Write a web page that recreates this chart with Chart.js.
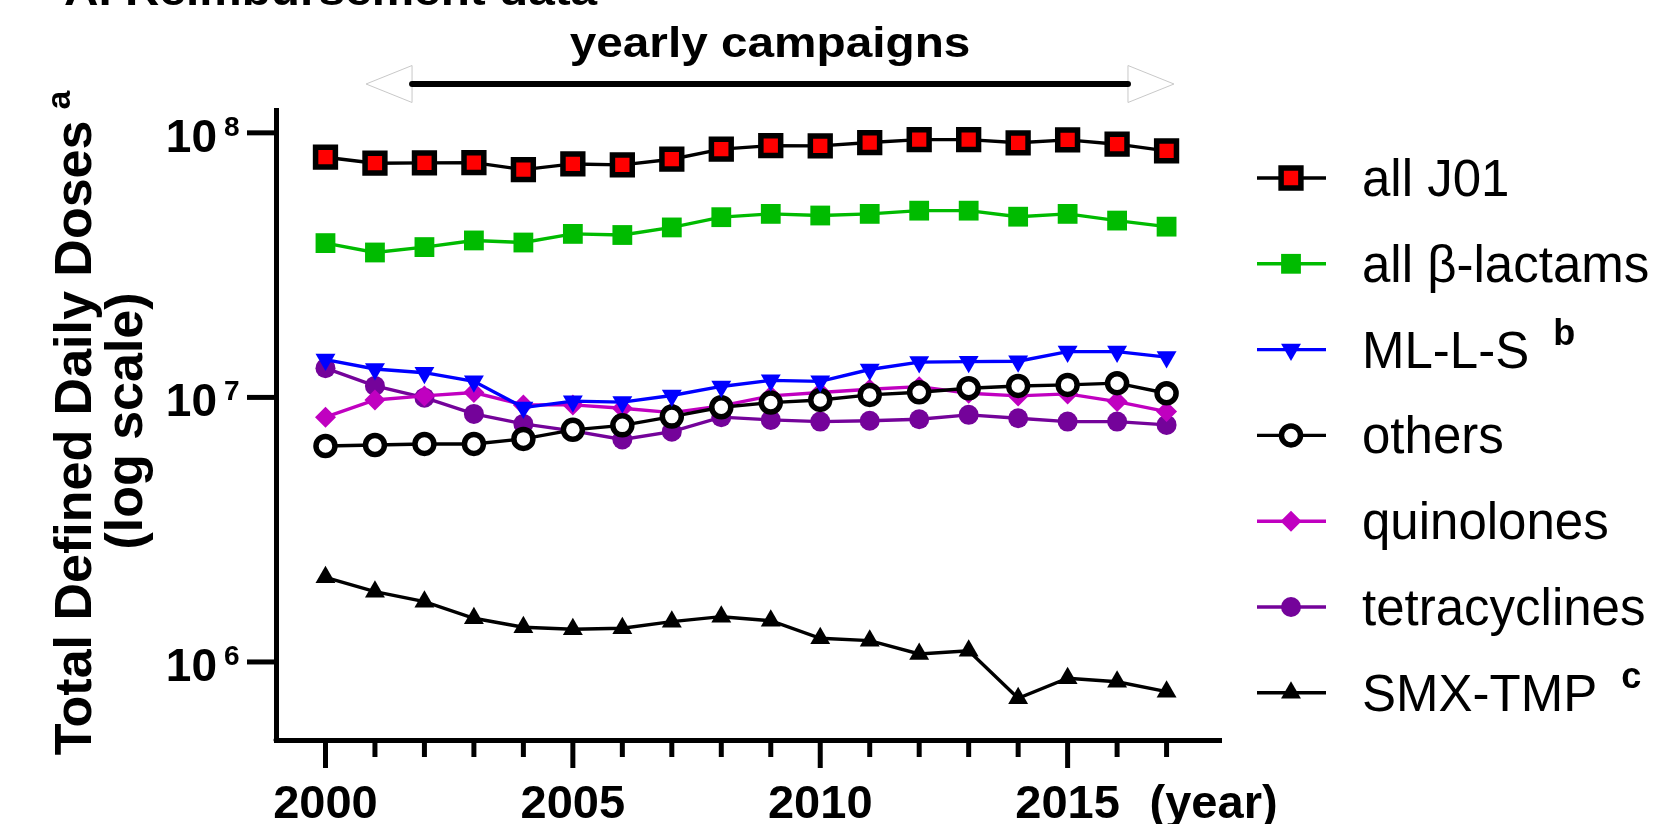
<!DOCTYPE html>
<html>
<head>
<meta charset="utf-8">
<script src="https://cdn.jsdelivr.net/npm/chart.js@4.4.1/dist/chart.umd.min.js"></script>
<style>
  html, body { margin: 0; padding: 0; background: #ffffff; overflow: hidden; }
  canvas { display: block; }
</style>
</head>
<body>
<canvas id="chart" width="1657" height="824"></canvas>
<script>
// ---- data: total defined daily doses per year (log scale) ----
const years = [2000, 2001, 2002, 2003, 2004, 2005, 2006, 2007, 2008, 2009,
               2010, 2011, 2012, 2013, 2014, 2015, 2016, 2017];

const allJ01 = [8.09e7, 7.68e7, 7.70e7, 7.72e7, 7.26e7, 7.63e7, 7.57e7, 7.95e7, 8.68e7,
                8.95e7, 8.93e7, 9.19e7, 9.43e7, 9.43e7, 9.17e7, 9.41e7, 9.06e7, 8.55e7];
const betaLactams = [3.83e7, 3.53e7, 3.70e7, 3.92e7, 3.85e7, 4.15e7, 4.11e7, 4.39e7, 4.80e7,
                     4.94e7, 4.87e7, 4.94e7, 5.08e7, 5.08e7, 4.82e7, 4.94e7, 4.66e7, 4.42e7];
const mlls = [1.39e7, 1.28e7, 1.24e7, 1.15e7, 9.15e6, 9.68e6, 9.60e6, 1.017e7, 1.10e7,
              1.16e7, 1.15e7, 1.275e7, 1.36e7, 1.365e7, 1.37e7, 1.49e7, 1.49e7, 1.42e7];
const others = [6.55e6, 6.61e6, 6.67e6, 6.67e6, 6.97e6, 7.54e6, 7.84e6, 8.46e6, 9.18e6,
                9.56e6, 9.78e6, 1.022e7, 1.046e7, 1.083e7, 1.105e7, 1.115e7, 1.132e7, 1.037e7];
const quinolones = [8.42e6, 9.78e6, 1.013e7, 1.043e7, 9.37e6, 9.37e6, 9.10e6, 8.76e6, 9.29e6,
                    1.013e7, 1.043e7, 1.074e7, 1.098e7, 1.037e7, 1.013e7, 1.031e7, 9.64e6, 8.84e6];
const tetracyclines = [1.29e7, 1.105e7, 9.98e6, 8.66e6, 7.94e6, 7.47e6, 6.93e6, 7.42e6, 8.42e6,
                       8.22e6, 8.10e6, 8.16e6, 8.27e6, 8.59e6, 8.34e6, 8.10e6, 8.10e6, 7.87e6];
const smxTmp = [2.09e6, 1.844e6, 1.69e6, 1.463e6, 1.353e6, 1.329e6, 1.341e6, 1.42e6, 1.483e6,
                1.432e6, 1.229e6, 1.204e6, 1.072e6, 1.103e6, 7.29e5, 8.68e5, 8.42e5, 7.72e5];

const seriesNames = ['all J01', 'all \u03B2-lactams', 'ML-L-S', 'others', 'quinolones', 'tetracyclines', 'SMX-TMP'];
const seriesNotes = ['', '', 'b', '', '', '', 'c'];
const seriesValues = [allJ01, betaLactams, mlls, others, quinolones, tetracyclines, smxTmp];

const yTickValues = [1e6, 1e7, 1e8];
const yTickExponents = ['6', '7', '8'];
const xLabelYears = [2000, 2005, 2010, 2015];

const titleText = 'A. Reimbursement data';
const campaignText = 'yearly campaigns';
const yTitleMain = 'Total Defined Daily Doses';
const yTitleNote = 'a';
const yTitleSub = '(log scale)';
const xUnitText = '(year)';

// span of the campaign arrow, in years
const CAMPAIGN_FROM = 2001.75;
const CAMPAIGN_TO = 2016.22;
const ARROW_HEAD = 0.93;

// ---- styles ----
const FONT = '"Liberation Sans", Arial, Helvetica, sans-serif';
const seriesStyles = [
  { line: '#000000', pointStyle: 'rect',     radius: 14,   rotation: 0,   fill: '#ff0000', border: '#000000', bw: 5.5 },
  { line: '#00bb00', pointStyle: 'rect',     radius: 14,   rotation: 0,   fill: '#00bb00', border: '#00bb00', bw: 0 },
  { line: '#0000ff', pointStyle: 'triangle', radius: 11.5, rotation: 180, fill: '#0000ff', border: '#0000ff', bw: 0 },
  { line: '#000000', pointStyle: 'circle',   radius: 9.5,  rotation: 0,   fill: '#ffffff', border: '#000000', bw: 5.5 },
  { line: '#c000c0', pointStyle: 'rectRot',  radius: 10.5, rotation: 0,   fill: '#c000c0', border: '#c000c0', bw: 0 },
  { line: '#74039a', pointStyle: 'circle',   radius: 10,   rotation: 0,   fill: '#74039a', border: '#74039a', bw: 0 },
  { line: '#000000', pointStyle: 'triangle', radius: 11.5, rotation: 0,   fill: '#000000', border: '#000000', bw: 0 }
];

const datasets = seriesValues.map((vals, i) => {
  const s = seriesStyles[i];
  return {
    label: seriesNames[i],
    data: years.map((yr, k) => ({ x: yr, y: vals[k] })),
    borderColor: s.line,
    borderWidth: 3.4,
    tension: 0,
    fill: false,
    clip: false,
    pointStyle: s.pointStyle,
    pointRadius: s.radius,
    pointRotation: s.rotation,
    pointBackgroundColor: s.fill,
    pointBorderColor: s.border,
    pointBorderWidth: s.bw,
    pointHoverRadius: s.radius,
    pointHitRadius: 0
  };
});

function markerAt(ctx, s, x, y) {
  ctx.fillStyle = s.fill;
  ctx.strokeStyle = s.border;
  ctx.lineWidth = s.bw;
  if (Chart.helpers && Chart.helpers.drawPoint) {
    Chart.helpers.drawPoint(ctx, { pointStyle: s.pointStyle, rotation: s.rotation, radius: s.radius, borderWidth: s.bw }, x, y);
  }
}

// axes ticks, labels, titles, the campaign arrow and the legend
const decorations = {
  id: 'decorations',
  afterDraw(chart) {
    const ctx = chart.ctx;
    const xs = chart.scales.x, ys = chart.scales.y;
    const area = chart.chartArea;
    ctx.save();
    ctx.fillStyle = '#000';
    ctx.strokeStyle = '#000';
    ctx.lineCap = 'butt';

    // corner joint of the two axes
    ctx.beginPath();
    ctx.arc(area.left, area.bottom, 2.5, 0, Math.PI * 2);
    ctx.fill();

    // y ticks: 10^n
    ctx.lineWidth = 5;
    yTickValues.forEach((v, i) => {
      const py = ys.getPixelForValue(v);
      ctx.beginPath();
      ctx.moveTo(area.left - 29, py);
      ctx.lineTo(area.left, py);
      ctx.stroke();
      ctx.font = 'bold 46px ' + FONT;
      ctx.textAlign = 'right';
      ctx.textBaseline = 'alphabetic';
      ctx.fillText('10', area.left - 59, py + 19);
      ctx.font = 'bold 28px ' + FONT;
      ctx.textAlign = 'left';
      ctx.fillText(yTickExponents[i], area.left - 52, py + 3);
    });

    // x ticks: every year, longer every five years
    years.forEach(yr => {
      const px = xs.getPixelForValue(yr);
      const major = xLabelYears.includes(yr);
      ctx.beginPath();
      ctx.moveTo(px, area.bottom);
      ctx.lineTo(px, area.bottom + (major ? 28 : 17));
      ctx.stroke();
    });
    ctx.font = 'bold 47px ' + FONT;
    ctx.textAlign = 'center';
    ctx.textBaseline = 'alphabetic';
    xLabelYears.forEach(yr => ctx.fillText(String(yr), xs.getPixelForValue(yr), 818));
    ctx.textAlign = 'left';
    ctx.fillText(xUnitText, xs.getPixelForValue(years[years.length - 1]) - 17, 818);

    // y axis title (two lines, rotated)
    ctx.save();
    ctx.translate(91, (area.top + area.bottom) / 2 - 2);
    ctx.rotate(-Math.PI / 2);
    ctx.font = 'bold 52px ' + FONT;
    const wMain = ctx.measureText(yTitleMain).width;
    ctx.font = 'bold 34px ' + FONT;
    const wNote = ctx.measureText(yTitleNote).width;
    const total = wMain + 11 + wNote;
    ctx.textAlign = 'left';
    ctx.font = 'bold 52px ' + FONT;
    ctx.fillText(yTitleMain, -total / 2, 0);
    ctx.font = 'bold 34px ' + FONT;
    ctx.fillText(yTitleNote, -total / 2 + wMain + 11, -21);
    ctx.font = 'bold 52px ' + FONT;
    ctx.textAlign = 'center';
    ctx.fillText(yTitleSub, 2, 51);
    ctx.restore();

    // panel title, clipped by the top edge
    ctx.save();
    ctx.translate(64, 5);
    ctx.scale(1.11, 1);
    ctx.font = 'bold 43px ' + FONT;
    ctx.textAlign = 'left';
    ctx.fillText(titleText, 0, 0);
    ctx.restore();

    // campaign arrow
    const yA = 84;
    const xL = xs.getPixelForValue(CAMPAIGN_FROM);
    const xR = xs.getPixelForValue(CAMPAIGN_TO);
    const xLt = xs.getPixelForValue(CAMPAIGN_FROM - ARROW_HEAD);
    const xRt = xs.getPixelForValue(CAMPAIGN_TO + ARROW_HEAD);
    const hh = 18.5;
    ctx.strokeStyle = '#c8c8c8';
    ctx.lineWidth = 1;
    ctx.fillStyle = '#ffffff';
    ctx.beginPath();
    ctx.moveTo(xLt, yA); ctx.lineTo(xL, yA - hh); ctx.lineTo(xL, yA + hh); ctx.closePath();
    ctx.fill(); ctx.stroke();
    ctx.beginPath();
    ctx.moveTo(xRt, yA); ctx.lineTo(xR, yA - hh); ctx.lineTo(xR, yA + hh); ctx.closePath();
    ctx.fill(); ctx.stroke();
    ctx.strokeStyle = '#000';
    ctx.lineWidth = 6;
    ctx.lineCap = 'round';
    ctx.beginPath();
    ctx.moveTo(xL, yA); ctx.lineTo(xR, yA);
    ctx.stroke();
    ctx.lineCap = 'butt';

    ctx.save();
    ctx.fillStyle = '#000';
    ctx.translate((xLt + xRt) / 2, 57);
    ctx.scale(1.11, 1);
    ctx.font = 'bold 43px ' + FONT;
    ctx.textAlign = 'center';
    ctx.fillText(campaignText, 0, 0);
    ctx.restore();

    // legend
    const lx0 = 1257, lx1 = 1326, lmx = 1291, ltx = 1362;
    const rowTop = 178, rowGap = 85.8;
    chart.data.datasets.forEach((ds, i) => {
      const s = seriesStyles[i];
      const ry = rowTop + i * rowGap;
      ctx.strokeStyle = ds.borderColor;
      ctx.lineWidth = ds.borderWidth;
      ctx.beginPath();
      ctx.moveTo(lx0, ry); ctx.lineTo(lx1, ry);
      ctx.stroke();
      markerAt(ctx, s, lmx, ry);
      ctx.fillStyle = '#000';
      ctx.font = '51px ' + FONT;
      ctx.textAlign = 'left';
      ctx.fillText(ds.label, ltx, ry + 18);
      if (seriesNotes[i]) {
        const w = ctx.measureText(ds.label).width;
        ctx.font = 'bold 36px ' + FONT;
        ctx.fillText(seriesNotes[i], ltx + w + 24, ry + 18 - 23);
      }
    });

    ctx.restore();
  }
};

new Chart(document.getElementById('chart'), {
  type: 'line',
  data: { datasets },
  options: {
    responsive: false,
    animation: false,
    devicePixelRatio: 1,
    layout: { padding: { left: 0, right: 436, top: 110, bottom: 0 } },
    plugins: {
      legend: { display: false },
      title: { display: false },
      tooltip: { enabled: false }
    },
    scales: {
      x: {
        type: 'linear',
        min: 1999,
        max: 2018.1,
        grid: { display: false, drawTicks: false },
        ticks: { display: false },
        border: { display: true, color: '#000', width: 5 },
        afterFit(scale) { scale.height = 84; }
      },
      y: {
        type: 'logarithmic',
        min: 5.07e5,
        max: 1.22e8,
        grid: { display: false, drawTicks: false },
        ticks: { display: false },
        border: { display: true, color: '#000', width: 5 },
        afterFit(scale) { scale.width = 276; }
      }
    }
  },
  plugins: [decorations]
});
</script>
</body>
</html>
